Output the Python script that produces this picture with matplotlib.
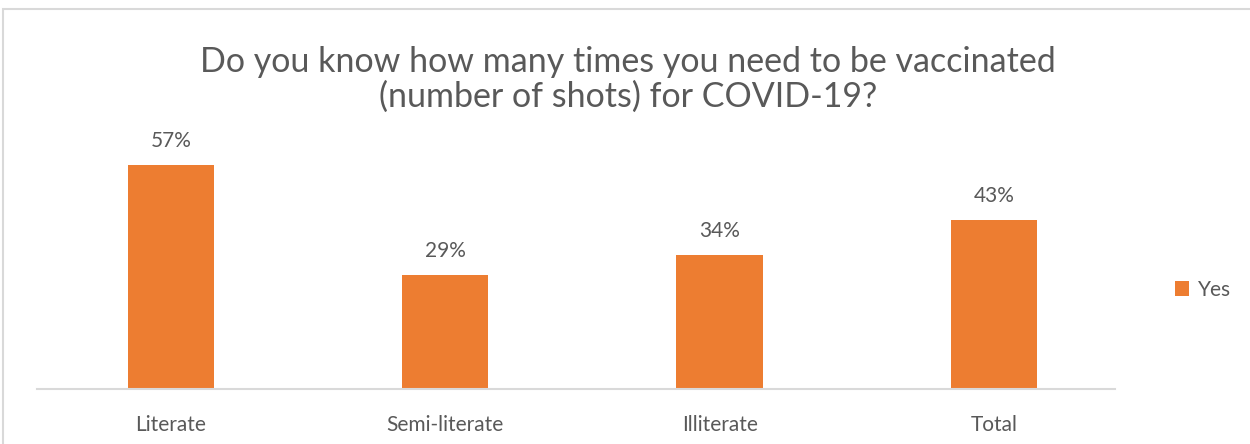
import matplotlib.pyplot as plt
from matplotlib.patches import Rectangle

categories = ['Literate', 'Semi-literate', 'Illiterate', 'Total']
yes_values = [57, 29, 34, 43]
value_labels = ['57%', '29%', '34%', '43%']

plt.rcParams['font.family'] = ['Lato', 'DejaVu Sans']
text_color = '#595959'
bar_color = '#ED7D31'

W, H = 1250, 444
fig = plt.figure(figsize=(12.5, 4.44), dpi=100)

# chart border (right and bottom edges fall outside the image)
fig.patches.append(Rectangle((3 / W, -0.05), 1.1, 1.05 - 9 / H,
                             transform=fig.transFigure, fill=False,
                             edgecolor='#d9d9d9', linewidth=1.5))

ax = fig.add_axes([37 / W, 1 - 389 / H, 1078 / W, 236 / H])
x = range(len(categories))
bars = ax.bar(x, yes_values, width=0.315, color=bar_color, label='Yes')
ax.set_xlim(-0.488, 3.441)
ax.set_ylim(0, 60)

for xi, v, lab in zip(x, yes_values, value_labels):
    ax.annotate(lab, (xi, v), xytext=(0, 10), textcoords='offset points',
                ha='center', va='bottom', fontsize=15, color=text_color)

ax.set_xticks(list(x))
ax.set_xticklabels(categories, fontsize=15, color=text_color)
ax.tick_params(axis='x', length=0, pad=19)
ax.set_yticks([])
for s in ['top', 'right', 'left']:
    ax.spines[s].set_visible(False)
ax.spines['bottom'].set_color('#d9d9d9')
ax.spines['bottom'].set_linewidth(1.5)

fig.text(628 / W, 1 - 79 / H,
         'Do you know how many times you need to be vaccinated\n(number of shots) for COVID-19?',
         ha='center', va='center', fontsize=24.5, color=text_color, linespacing=1.1)

fig.legend(handles=[bars], labels=['Yes'], loc='center left',
           bbox_to_anchor=(1156 / W, 1 - 290 / H), frameon=False,
           fontsize=15, labelcolor=text_color, handlelength=0.7,
           handleheight=0.7, handletextpad=0.4)

fig.savefig('out.png', dpi=100, facecolor='white')
